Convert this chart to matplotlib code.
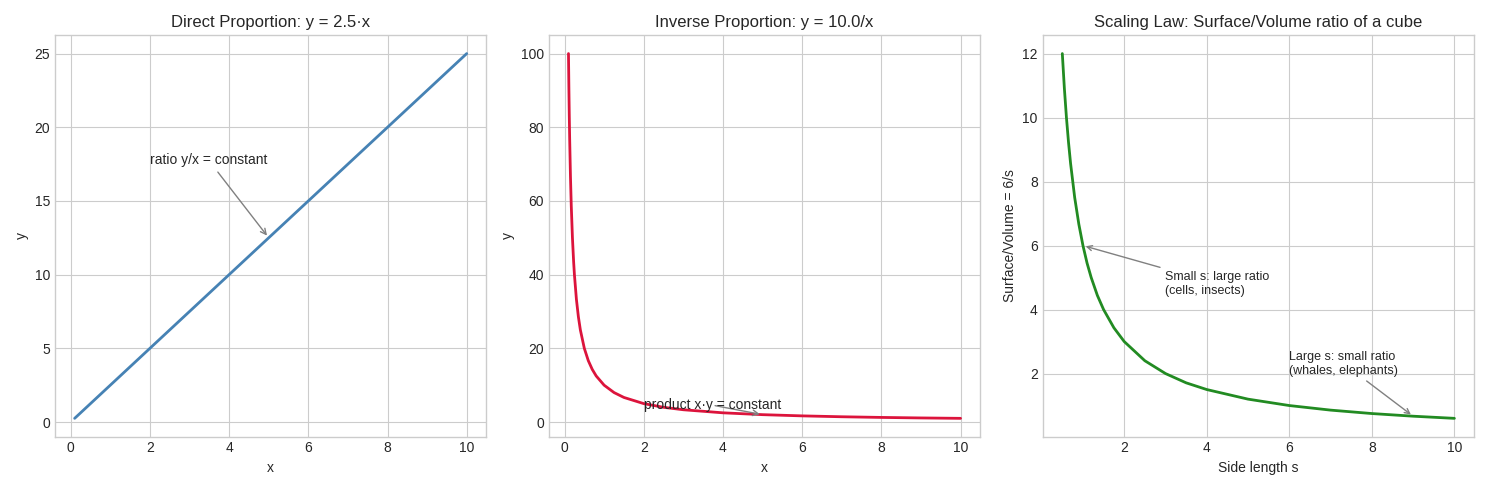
import matplotlib
matplotlib.use("Agg")
import matplotlib.pyplot as plt

plt.style.use("seaborn-v0_8-whitegrid")

direct_x = [0.1, 10.0]
direct_y = [0.25, 25.0]

inv_x = [0.1, 0.11, 0.12, 0.13, 0.15, 0.17, 0.2, 0.23, 0.25, 0.3, 0.35, 0.4, 0.5, 0.6, 0.7, 0.8, 1.0, 1.25, 1.5, 2.0, 2.5, 3.0, 4.0, 5.0, 6.0, 7.0, 8.0, 9.0, 10.0]
inv_y = [100.0, 90.91, 83.33, 76.92, 66.67, 58.82, 50.0, 43.48, 40.0, 33.33, 28.57, 25.0, 20.0, 16.67, 14.29, 12.5, 10.0, 8.0, 6.67, 5.0, 4.0, 3.33, 2.5, 2.0, 1.67, 1.43, 1.25, 1.11, 1.0]

cube_s = [0.5, 0.55, 0.6, 0.65, 0.7, 0.8, 0.9, 1.0, 1.1, 1.2, 1.35, 1.5, 1.75, 2.0, 2.5, 3.0, 3.5, 4.0, 5.0, 6.0, 7.0, 8.0, 9.0, 10.0]
cube_r = [12.0, 10.91, 10.0, 9.23, 8.57, 7.5, 6.67, 6.0, 5.45, 5.0, 4.44, 4.0, 3.43, 3.0, 2.4, 2.0, 1.71, 1.5, 1.2, 1.0, 0.857, 0.75, 0.667, 0.6]

fig, axes = plt.subplots(1, 3, figsize=(14.89, 4.9), dpi=100)
arrow = dict(arrowstyle="->", color="gray")

ax = axes[0]
ax.plot(direct_x, direct_y, color="steelblue", lw=2)
ax.set_title("Direct Proportion: y = 2.5·x")
ax.set_xlabel("x"); ax.set_ylabel("y")
ax.annotate("ratio y/x = constant", xy=(5, 12.5), xytext=(2, 17.5), arrowprops=arrow)

ax = axes[1]
ax.plot(inv_x, inv_y, color="crimson", lw=2)
ax.set_title("Inverse Proportion: y = 10.0/x")
ax.set_xlabel("x"); ax.set_ylabel("y")
ax.annotate("product x·y = constant", xy=(5, 2), xytext=(2, 3.5), arrowprops=arrow)

ax = axes[2]
ax.plot(cube_s, cube_r, color="forestgreen", lw=2)
ax.set_title("Scaling Law: Surface/Volume ratio of a cube")
ax.set_xlabel("Side length s"); ax.set_ylabel("Surface/Volume = 6/s")
ax.annotate("Small s: large ratio\n(cells, insects)", xy=(1, 6), xytext=(3, 4.5), arrowprops=arrow, fontsize=9)
ax.annotate("Large s: small ratio\n(whales, elephants)", xy=(9, 0.667), xytext=(6, 2), arrowprops=arrow, fontsize=9)

for a in axes:
    for s in a.spines.values():
        s.set_visible(True); s.set_color("#cccccc")

plt.tight_layout()
plt.savefig("out.png")
